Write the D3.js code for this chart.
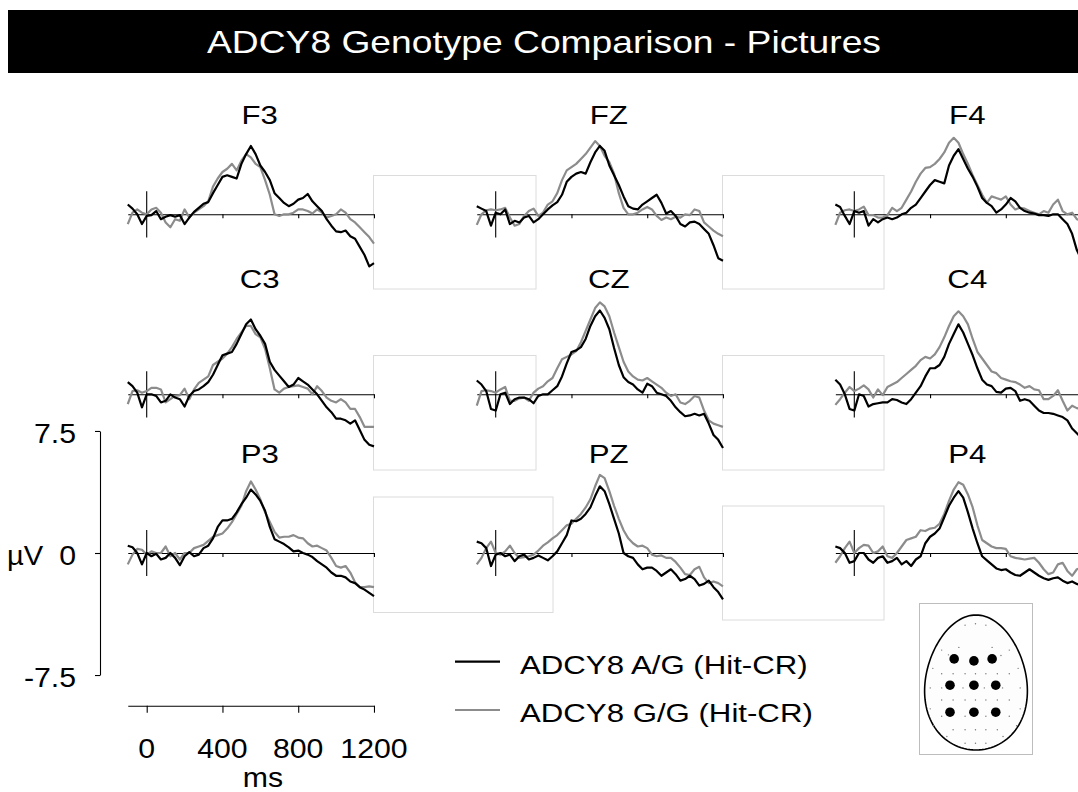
<!DOCTYPE html>
<html><head><meta charset="utf-8">
<script src="https://cdn.jsdelivr.net/npm/d3@7"></script>
<style>body{margin:0;background:#fff}svg{display:block}text{font-family:"Liberation Sans",Arial,sans-serif}</style>
</head><body><svg id="c" width="1078" height="792"></svg>
<script>
// ---------- DATA ----------
const title = "ADCY8 Genotype Comparison - Pictures";
const times = [-100,-75,-50,-25,0,25,50,75,100,125,150,175,200,225,250,275,300,325,350,375,400,425,450,475,500,525,550,575,600,625,650,675,700,725,750,775,800,825,850,875,900,925,950,975,1000,1025,1050,1075,1100,1125,1150,1175,1200];
const channels = ["F3","FZ","F4","C3","CZ","C4","P3","PZ","P4"];
const legendLabels = ["ADCY8 A/G (Hit-CR)","ADCY8 G/G (Hit-CR)"];
const yTicks = [7.5,0,-7.5];
const yTickLabels = ["7.5","0","-7.5"];
const xTicks = [0,400,800,1200];
const xTickLabels = ["0","400","800","1200"];
const panelTicks = [400,800,1200];
const yUnit = "µV", xUnit = "ms";

const F3_AG = [0.6,0.35,0.0,-0.6,-0.1,-0.05,0.2,-0.3,-0.15,-0.05, -0.15,-0.05,-0.6,-0.2,0.15,0.4,0.65,0.75,1.3,1.8, 2.3,2.4,2.3,2.2,3.1,3.7,4.2,3.7,3.0,2.6, 2.1,1.3,1.0,0.7,0.5,0.65,0.9,1.0,1.25,0.8, 0.5,0.2,-0.3,-0.7,-1.05,-1.1,-1.0,-1.35,-1.5,-2.0, -2.5,-3.2,-3.0];
const F3_GG = [-0.6,0.1,0.3,0.1,0.0,0.3,0.4,0.1,-0.5,-0.8, -0.3,-0.4,0.3,-0.2,0.1,0.3,0.5,0.8,1.7,2.2, 2.6,2.8,3.1,2.7,3.3,3.7,3.5,3.1,2.9,2.1, 1.2,0.0,-0.1,0.0,0.0,0.1,0.3,0.3,0.2,0.05, 0.3,0.1,-0.2,-0.1,0.0,0.3,0.1,-0.3,-0.5,-0.8, -1.1,-1.4,-1.8];
const FZ_AG = [0.5,0.35,0.2,-0.7,0.1,0.0,0.3,-0.6,-0.4,-0.5, -0.2,-0.1,-0.5,-0.3,0.0,0.3,0.55,0.75,1.2,2.0, 2.3,2.5,2.6,2.5,3.2,3.8,4.2,3.9,3.0,2.4, 1.8,1.1,0.5,0.35,0.3,0.6,0.8,1.0,1.2,0.7, 0.05,0.2,-0.1,-0.6,-0.75,-0.5,-0.45,-0.6,-0.9,-1.2, -1.9,-2.7,-2.85];
const FZ_GG = [-0.65,0.0,0.25,0.3,0.25,0.3,0.4,-0.2,-0.7,-0.6, -0.1,0.2,0.35,-0.1,0.1,0.6,0.8,1.3,2.1,2.7, 2.9,3.1,3.4,3.7,4.1,4.5,4.2,3.6,3.2,2.5, 1.3,0.4,0.0,0.0,0.1,0.3,0.45,0.3,-0.1,-0.35, -0.2,-0.3,-0.15,-0.2,0.0,-0.05,0.3,0.2,-0.5,-0.75, -1.0,-1.2,-1.35];
const F4_AG = [0.6,0.45,-0.1,-0.6,0.2,0.1,0.2,-0.7,-0.3,-0.5, -0.3,-0.2,-0.3,-0.2,0.0,0.1,0.4,0.6,1.0,1.4, 1.8,2.1,2.0,1.9,3.0,3.6,4.0,3.4,2.8,2.3, 1.7,1.0,0.7,0.5,0.1,0.3,0.6,1.0,0.8,0.4, 0.2,0.1,0.05,-0.05,-0.05,-0.1,0.0,0.0,-0.3,-0.6, -1.2,-2.2,-2.8];
const F4_GG = [-0.65,0.1,0.25,0.3,0.2,0.3,0.47,-0.05,-0.05,-0.2, -0.2,-0.05,0.4,0.2,0.4,0.9,1.4,2.0,2.5,2.85, 2.9,3.1,3.4,3.8,4.4,4.7,4.4,3.7,3.1,2.4, 1.8,1.2,0.7,1.1,1.0,0.9,1.1,0.6,0.3,0.4, 0.35,0.2,0.1,0.0,0.2,0.1,0.6,0.9,0.2,0.0, 0.1,-0.3,-0.4];
const C3_AG = [0.75,0.5,0.1,-0.8,0.0,0.0,-0.1,-0.5,-0.4,0.0, -0.2,-0.3,-0.75,-0.1,0.2,0.3,0.5,0.75,1.2,1.8, 2.4,2.5,2.6,3.1,3.7,4.3,4.6,4.0,3.6,3.1, 2.0,1.5,1.15,0.8,0.45,0.6,1.0,0.8,0.6,0.3, 0.0,-0.4,-0.8,-1.1,-1.5,-1.5,-1.6,-1.8,-1.6,-2.2, -2.8,-3.1,-3.2];
const C3_GG = [-0.6,0.2,0.25,0.1,0.2,0.4,0.4,0.3,-0.5,-0.3, -0.1,-0.05,0.35,-0.3,0.3,0.7,0.9,1.1,1.8,2.0, 2.2,2.5,2.9,3.4,3.8,4.2,4.2,3.7,3.5,2.8, 1.6,0.3,0.1,0.35,0.45,0.5,0.55,0.45,0.35,0.0, 0.5,0.2,-0.2,-0.4,-0.5,-0.3,-0.5,-0.9,-0.9,-1.4, -2.0,-2.0,-2.0];
const CZ_AG = [0.85,0.6,0.2,-0.9,-1.0,0.0,0.1,-0.6,-0.3,-0.2, -0.2,-0.3,-0.55,-0.1,0.0,0.0,0.25,0.5,1.1,1.9, 2.6,2.7,2.9,3.4,4.2,4.8,5.15,4.7,4.0,2.85, 1.8,1.05,0.75,0.6,0.3,0.1,0.65,0.5,0.1,0.0, -0.1,-0.4,-0.8,-1.1,-1.35,-1.3,-1.2,-1.3,-1.2,-1.8, -2.5,-2.8,-3.3];
const CZ_GG = [-0.7,0.2,0.25,0.2,0.1,0.3,0.45,-0.4,-0.4,-0.25, -0.2,-0.4,0.1,0.35,0.5,0.8,1.0,1.6,2.15,2.3, 2.45,2.65,3.2,3.9,4.6,5.3,5.65,5.4,4.8,3.8, 2.9,2.0,1.4,1.1,0.9,0.85,1.0,0.8,0.6,0.4, 0.1,-0.1,0.0,-0.5,-0.6,-0.4,-0.1,-0.2,-1.0,-1.6, -1.8,-1.9,-2.0];
const C4_AG = [0.9,0.6,0.0,-0.9,-1.0,0.0,-0.1,-0.75,-0.6,-0.55, -0.5,-0.5,-0.3,-0.35,-0.5,-0.6,-0.3,0.1,0.5,1.1, 1.6,1.6,1.8,2.3,3.1,3.7,4.3,3.8,3.1,2.4, 1.6,0.9,0.6,0.5,0.15,0.1,0.35,0.4,0.2,-0.4, -0.3,-0.4,-0.7,-1.0,-1.15,-1.15,-1.2,-1.3,-1.4,-1.6, -2.1,-2.4,-2.7];
const C4_GG = [-0.65,-0.3,0.1,0.45,0.2,0.35,0.55,0.3,-0.2,0.3, -0.05,0.45,0.6,0.75,1.0,1.25,1.5,1.75,2.1,2.3, 2.2,2.45,2.9,3.5,4.2,4.8,5.1,4.8,4.3,3.4, 2.6,2.2,1.8,1.4,1.3,1.0,0.9,0.8,0.75,0.6, 0.4,0.5,0.3,0.25,-0.3,-0.3,-0.1,0.25,-0.4,-1.0, -0.7,-0.85,-0.9];
const P3_AG = [0.45,0.35,0.0,-0.7,0.0,-0.2,-0.05,-0.4,-0.3,0.0, -0.3,-0.75,-0.2,0.05,-0.2,-0.1,0.3,0.45,0.9,1.6, 2.0,2.0,2.1,2.5,3.0,3.4,3.9,3.6,3.2,2.6, 1.6,0.85,0.7,0.55,0.35,0.1,0.15,0.0,-0.1,-0.25, -0.5,-0.7,-0.9,-1.2,-1.4,-1.4,-1.5,-1.75,-1.85,-2.1, -2.25,-2.45,-2.65];
const P3_GG = [-0.7,-0.1,0.25,0.2,-0.1,0.1,0.0,0.0,0.4,-0.2, 0.0,-0.4,0.0,0.0,0.3,0.4,0.5,0.75,1.0,1.1, 1.2,1.5,1.9,2.4,2.9,3.8,4.4,3.9,3.3,2.5, 1.9,1.3,0.95,1.0,1.0,1.1,0.95,0.9,0.6,0.4, 0.45,0.3,0.15,-0.3,-0.8,-0.9,-0.8,-1.2,-1.8,-2.1, -2.1,-2.05,-2.1];
const PZ_AG = [0.7,0.6,0.3,-0.8,-0.1,0.0,-0.2,-0.1,-0.5,-0.2, -0.1,-0.4,-0.3,-0.15,-0.3,-0.45,-0.2,0.1,0.6,1.1, 2.0,1.95,2.1,2.4,2.8,3.5,4.1,3.8,3.0,2.1, 1.2,0.0,-0.2,-0.3,-0.7,-1.0,-0.9,-0.9,-1.1,-1.4, -1.2,-1.0,-1.3,-1.7,-1.6,-1.4,-1.6,-2.0,-1.9,-1.7, -2.1,-2.4,-2.85];
const PZ_GG = [-0.7,-0.3,0.3,0.7,0.0,-0.1,0.1,0.45,0.0,-0.3, -0.25,-0.2,-0.1,0.15,0.45,0.65,0.9,1.1,1.4,1.7, 1.8,2.1,2.4,2.8,3.3,4.1,4.8,4.6,3.8,2.9, 2.1,1.4,0.9,0.6,0.4,0.45,0.3,-0.1,-0.2,-0.15, -0.3,-0.3,-0.55,-0.9,-1.3,-1.35,-1.0,-0.85,-1.5,-1.85, -1.75,-1.85,-2.05];
const P4_AG = [0.4,0.3,0.0,-0.6,-0.5,0.0,0.0,-0.4,-0.6,-0.3, -0.2,-0.6,-0.5,-0.3,-0.7,-0.5,-0.8,-0.4,-0.2,0.6, 1.0,1.2,1.5,2.2,2.9,3.4,3.8,3.4,2.5,1.5, 0.6,-0.2,-0.45,-0.7,-0.95,-1.05,-1.0,-1.2,-1.35,-1.4, -1.2,-1.0,-1.2,-1.4,-1.55,-1.65,-1.55,-1.5,-1.7,-1.85, -1.75,-1.9,-2.0];
const P4_GG = [-0.6,-0.2,0.3,0.7,0.0,0.3,0.5,0.45,0.0,0.1, 0.4,-0.2,-0.3,0.0,0.4,0.8,0.9,1.0,1.4,1.35, 1.5,1.55,1.8,2.4,3.2,3.9,4.35,4.2,3.6,2.8, 1.7,0.8,0.6,0.4,0.3,0.3,0.25,-0.2,-0.3,-0.35, -0.4,-0.35,-0.3,-0.6,-1.0,-1.3,-1.2,-0.7,-0.6,-1.1, -1.4,-1.0,-0.9];

// electrode montage in normalised head coordinates
const electrodesMain = [[-0.42,-0.35],[-0.04,-0.32],[0.31,-0.35],[-0.5,0.04],[-0.04,0.04],[0.38,0.04],[-0.5,0.44],[-0.04,0.44],[0.38,0.44]];
const electrodesMinor = [[-0.21,-0.85],[-0.01,-0.87],[0.19,-0.85],[-0.66,-0.48],[-0.33,-0.52],[0.31,-0.52],[0.64,-0.48],[-0.53,-0.41],[0.48,-0.4],[-0.83,-0.21],[0.81,-0.21],
 [-0.66,-0.13],[-0.44,-0.13],[-0.21,-0.13],[-0.01,-0.13],[0.19,-0.13],[0.41,-0.13],[0.64,-0.13],
 [-0.88,0.08],[-0.66,0.08],[-0.25,0.08],[0.16,0.08],[0.51,0.08],[0.85,0.08],
 [-0.66,0.26],[-0.44,0.26],[-0.21,0.26],[-0.01,0.26],[0.19,0.26],[0.41,0.26],[0.64,0.26],
 [-0.88,0.39],[0.85,0.39],[-0.66,0.5],[-0.21,0.5],[0.19,0.5],[0.64,0.5],[-0.82,0.64],[0.78,0.64],
 [-0.44,0.7],[-0.21,0.7],[-0.01,0.7],[0.19,0.7],[0.41,0.7],[-0.56,0.8],[0.52,0.8],[-0.21,0.9],[-0.01,0.9],[0.19,0.9]];

const seriesAG = {F3:F3_AG,FZ:FZ_AG,F4:F4_AG,C3:C3_AG,CZ:CZ_AG,C4:C4_AG,P3:P3_AG,PZ:PZ_AG,P4:P4_AG};
const seriesGG = {F3:F3_GG,FZ:FZ_GG,F4:F4_GG,C3:C3_GG,CZ:CZ_GG,C4:C4_GG,P3:P3_GG,PZ:PZ_GG,P4:P4_GG};

// ---------- LAYOUT ----------
const colZeroX = [146.7,495.7,854.3];
const rowZeroY = [214.3,394.3,553];
const rowLabelY = [124,288,463];
const pxPerMs = 0.1894, pxPerUV = 16.27;
const colBlack = "#000", colGray = "#8c8c8c";

const svg = d3.select("#c");
function stext(g,x,y,str,size,sx,anchor,fill){
  return g.append("text").attr("transform",`translate(${x},${y}) scale(${sx},1)`)
    .attr("text-anchor",anchor).attr("font-size",size).attr("fill",fill||"#000").text(str);
}
const xScaleFor = c => d3.scaleLinear().domain([-100,1200]).range([colZeroX[c]-100*pxPerMs, colZeroX[c]+1200*pxPerMs]);
const yScaleFor = r => d3.scaleLinear().domain([-7.5,7.5]).range([rowZeroY[r]+7.5*pxPerUV, rowZeroY[r]-7.5*pxPerUV]);

// title bar
svg.append("rect").attr("x",8).attr("y",10).attr("width",1070).attr("height",63).attr("fill","#000");
stext(svg,544,53,title,31,1.2,"middle","#fff");

// faint frames
const frames = [[373.5,175.5,536,289],[722.5,175.5,884,289],[373.5,355.5,536,470],[722.5,355.5,884,470],[373.5,497,553,612.5],[722.5,506,884,620]];
svg.append("g").selectAll("rect").data(frames).join("rect")
  .attr("x",d=>d[0]).attr("y",d=>d[1]).attr("width",d=>d[2]-d[0]).attr("height",d=>d[3]-d[1])
  .attr("fill","none").attr("stroke","#dcdcdc").attr("stroke-width",1);

// panels
channels.forEach((ch,i)=>{
  const c = i%3, r = Math.floor(i/3);
  const x = xScaleFor(c), y = yScaleFor(r);
  const g = svg.append("g");
  const ax = d3.axisBottom(x).tickValues(panelTicks).tickSize(4).tickSizeOuter(0).tickFormat("");
  g.append("g").attr("transform",`translate(0,${y(0)})`).call(ax)
    .call(s=>s.selectAll("path,line").attr("stroke","#000").attr("stroke-width",1.1));
  g.append("line").attr("x1",x(0)).attr("x2",x(0)).attr("y1",y(1.42)).attr("y2",y(-1.42))
    .attr("stroke","#000").attr("stroke-width",1.1);
  const line = d3.line().x((d,k)=>x(times[k])).y(d=>y(d)).curve(d3.curveLinear);
  g.append("path").attr("d",line(seriesGG[ch])).attr("fill","none").attr("stroke",colGray).attr("stroke-width",2.2).attr("stroke-linejoin","round");
  g.append("path").attr("d",line(seriesAG[ch])).attr("fill","none").attr("stroke",colBlack).attr("stroke-width",2.2).attr("stroke-linejoin","round");
  stext(g,colZeroX[c]+113,rowLabelY[r],ch,26,1.2,"middle");
});

// amplitude scale bar
const yb = yScaleFor(2);
const ya = svg.append("g").attr("transform","translate(100,0)")
  .call(d3.axisLeft(yb).tickValues(yTicks).tickSize(5).tickSizeOuter(0).tickFormat(""));
ya.selectAll("path,line").attr("stroke","#000").attr("stroke-width",1.1);
yTicks.forEach((t,k)=>stext(svg,76,yb(t)+12,yTickLabels[k],28,1.08,"end"));
stext(svg,7,yb(0)+12,yUnit,28,1.04,"start");

// time scale bar
const xb = xScaleFor(0);
const xa = svg.append("g").attr("transform","translate(0,705.7)")
  .call(d3.axisBottom(xb).tickValues(xTicks).tickSize(7).tickSizeOuter(0).tickFormat(""));
xa.selectAll("path,line").attr("stroke","#000").attr("stroke-width",1.1);
xTicks.forEach((t,k)=>stext(svg,xb(t),758,xTickLabels[k],28,1.08,"middle"));
stext(svg,263,787,xUnit,28,1.08,"middle");

// legend
[colBlack,colGray].forEach((col,k)=>{
  const ly = [661.7,710][k];
  svg.append("line").attr("x1",455).attr("x2",500).attr("y1",ly).attr("y2",ly).attr("stroke",col).attr("stroke-width",2.2);
  stext(svg,520,ly+11.8,legendLabels[k],26,1.2,"start");
});

// head map
svg.append("rect").attr("x",919.5).attr("y",603.5).attr("width",113).attr("height",151)
  .attr("fill","#fff").attr("stroke","#bdbdbd").attr("stroke-width",1);
const hx = d3.scaleLinear().domain([-1,1]).range([924,1028]);
const hy = d3.scaleLinear().domain([-1,1]).range([615,750]);
const eggPts = d3.range(0,360,3).map(a=>{const th=a*Math.PI/180,u=-Math.cos(th);return [Math.sin(th)*(1+0.13*u)/1.02, u];});
svg.append("path").attr("d",d3.line().x(d=>hx(d[0])).y(d=>hy(d[1])).curve(d3.curveLinearClosed)(eggPts))
  .attr("fill","#fdfdfd").attr("stroke","#000").attr("stroke-width",1.6);
svg.append("g").selectAll("circle").data(electrodesMinor).join("circle")
  .attr("cx",d=>hx(d[0])).attr("cy",d=>hy(d[1])).attr("r",0.7).attr("fill","#777");
svg.append("g").selectAll("circle").data(electrodesMain).join("circle")
  .attr("cx",d=>hx(d[0])).attr("cy",d=>hy(d[1])).attr("r",4.8).attr("fill","#000");
</script></body></html>
